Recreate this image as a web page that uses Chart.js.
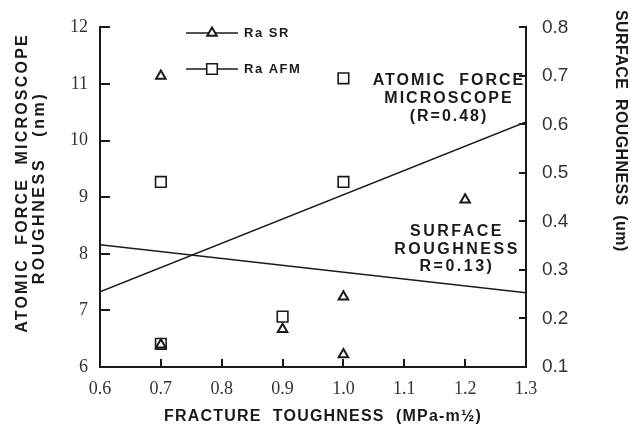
<!DOCTYPE html>
<html lang="en">

<head>
    <meta charset="UTF-8">
    <title>Fracture toughness vs roughness</title>
    <script src="https://cdn.jsdelivr.net/npm/chart.js"></script>
    <style>
        body { margin: 0; background: #fff; }
        canvas { display: block; }
    </style>
</head>

<body>
    <canvas id="roughChart" width="631" height="431"></canvas>

    <script>
        // x axis: fracture toughness
        const xMin = 0.6, xMax = 1.3, xStep = 0.1;
        // left axis: AFM roughness (nm), right axis: surface roughness (um)
        const afmMin = 6, afmMax = 12, afmStep = 1;
        const srMin = 0.1, srMax = 0.8, srStep = 0.1;

        // Ra SR points (right axis)
        const srToughness = [0.7, 0.7, 0.9, 1.0, 1.0, 1.2];
        const srRoughness = [0.70, 0.146, 0.178, 0.245, 0.126, 0.445];

        // Ra AFM points (left axis)
        const afmToughness = [0.7, 0.7, 0.9, 1.0, 1.0];
        const afmRoughness = [9.27, 6.41, 6.89, 11.1, 9.27];

        // fitted lines
        const fitToughness = [0.6, 1.3];
        const afmFit = [7.33, 10.33];
        const srFit = [0.352, 0.253];

        const seriesLabels = ['Ra SR', 'Ra AFM'];
        const xTitle = 'FRACTURE  TOUGHNESS  (MPa-m½)';
        const yTitle = ['ATOMIC  FORCE  MICROSCOPE', 'ROUGHNESS   (nm)'];
        const y2Title = 'SURFACE  ROUGHNESS  (um)';
        const afmNote = ['ATOMIC  FORCE', 'MICROSCOPE', '(R=0.48)'];
        const srNote = ['SURFACE', 'ROUGHNESS', 'R=0.13)'];

        const ink = '#1a1a1a';
        const toPoints = (xs, ys) => xs.map((x, i) => ({ x: x, y: ys[i] }));

        function drawText(ctx, text, x, y, opts) {
            ctx.save();
            ctx.translate(x, y);
            ctx.rotate(opts.rotation || 0);
            ctx.font = opts.font;
            ctx.letterSpacing = (opts.spacing || 0) + 'px';
            ctx.textAlign = opts.align || 'center';
            ctx.textBaseline = 'middle';
            ctx.fillStyle = ink;
            ctx.fillText(text, 0, 0);
            ctx.restore();
        }

        // inward tick marks, titles, notes and legend
        const decorations = {
            id: 'decorations',
            afterDraw(chart) {
                const { ctx, chartArea: a, scales } = chart;
                ctx.save();
                ctx.strokeStyle = ink;
                ctx.lineWidth = 2;
                ctx.beginPath();
                scales.x.ticks.forEach(t => {
                    const px = Math.round(scales.x.getPixelForValue(t.value));
                    ctx.moveTo(px, a.bottom);
                    ctx.lineTo(px, a.bottom - 8);
                });
                scales.y.ticks.forEach(t => {
                    const py = Math.round(scales.y.getPixelForValue(t.value));
                    ctx.moveTo(a.left, py);
                    ctx.lineTo(a.left + 10, py);
                });
                scales.y2.ticks.forEach(t => {
                    const py = Math.round(scales.y2.getPixelForValue(t.value));
                    ctx.moveTo(a.right, py);
                    ctx.lineTo(a.right - 7, py);
                });
                ctx.stroke();
                ctx.restore();

                const bold = 'bold 16px "Liberation Sans", Arial, sans-serif';
                drawText(ctx, xTitle, 323, 417, { font: bold, spacing: 1.2 });
                drawText(ctx, yTitle[0], 23, 183, { font: bold, spacing: 2.2, rotation: -Math.PI / 2 });
                drawText(ctx, yTitle[1], 40, 188, { font: bold, spacing: 2.6, rotation: -Math.PI / 2 });
                drawText(ctx, y2Title, 620, 10, { font: bold, spacing: 0.4, rotation: Math.PI / 2, align: 'left' });

                afmNote.forEach((t, i) => drawText(ctx, t, 449, 81 + i * 18, { font: bold, spacing: 2 }));
                srNote.forEach((t, i) => drawText(ctx, t, 457, 232 + i * 17.5, { font: bold, spacing: 2.5 }));

                // legend: line with marker in the middle
                const legendRows = [0, 1];
                legendRows.forEach(i => {
                    const ds = chart.data.datasets[i];
                    const ly = 33 + i * 36;
                    ctx.save();
                    ctx.strokeStyle = ink;
                    ctx.lineWidth = 1.5;
                    ctx.beginPath();
                    ctx.moveTo(186, ly);
                    ctx.lineTo(238, ly);
                    ctx.stroke();
                    ctx.fillStyle = '#fff';
                    ctx.lineWidth = ds.borderWidth;
                    Chart.helpers.drawPoint(ctx, {
                        pointStyle: ds.pointStyle,
                        radius: ds.pointRadius,
                        borderWidth: ds.borderWidth,
                        rotation: 0
                    }, 212, ly);
                    ctx.restore();
                    drawText(ctx, ds.label, 244, ly, { font: 'bold 13px "Liberation Sans", Arial, sans-serif', spacing: 1.5, align: 'left' });
                });
            }
        };

        const ctx = document.getElementById('roughChart').getContext('2d');
        new Chart(ctx, {
            type: 'scatter',
            data: {
                datasets: [
                    {
                        label: seriesLabels[0],
                        data: toPoints(srToughness, srRoughness),
                        yAxisID: 'y2',
                        pointStyle: 'triangle',
                        pointRadius: 5.5,
                        borderWidth: 2,
                        borderColor: ink,
                        backgroundColor: 'rgba(0,0,0,0)',
                        showLine: false,
                    },
                    {
                        label: seriesLabels[1],
                        data: toPoints(afmToughness, afmRoughness),
                        yAxisID: 'y',
                        pointStyle: 'rect',
                        pointRadius: 7.5,
                        borderWidth: 1.6,
                        borderColor: ink,
                        backgroundColor: 'rgba(0,0,0,0)',
                        showLine: false,
                    },
                    {
                        label: 'AFM fit',
                        data: toPoints(fitToughness, afmFit),
                        yAxisID: 'y',
                        showLine: true,
                        pointRadius: 0,
                        borderWidth: 1.5,
                        borderColor: ink,
                    },
                    {
                        label: 'SR fit',
                        data: toPoints(fitToughness, srFit),
                        yAxisID: 'y2',
                        showLine: true,
                        pointRadius: 0,
                        borderWidth: 1.5,
                        borderColor: ink,
                    },
                ],
            },
            options: {
                responsive: false,
                animation: false,
                devicePixelRatio: 1,
                layout: { padding: { top: 15, left: 0, right: 0, bottom: 0 } },
                plugins: {
                    legend: { display: false },
                    tooltip: { enabled: false },
                },
                scales: {
                    x: {
                        type: 'linear',
                        min: xMin,
                        max: xMax,
                        ticks: {
                            stepSize: xStep,
                            padding: 11,
                            color: '#333',
                            font: { family: '"Liberation Serif", serif', size: 18 },
                        },
                        grid: { display: false, drawTicks: false },
                        border: { display: true, color: ink, width: 2 },
                        afterFit: (s) => { s.height = 64; },
                    },
                    y: {
                        position: 'left',
                        min: afmMin,
                        max: afmMax,
                        ticks: {
                            stepSize: afmStep,
                            padding: 12,
                            color: '#333',
                            font: { family: '"Liberation Serif", serif', size: 18 },
                        },
                        grid: { display: false, drawTicks: false },
                        border: { display: true, color: ink, width: 2 },
                        afterFit: (s) => { s.width = 100; },
                    },
                    y2: {
                        position: 'right',
                        min: srMin,
                        max: srMax,
                        ticks: {
                            stepSize: srStep,
                            padding: 16,
                            color: '#333',
                            font: { family: '"Liberation Sans", sans-serif', size: 19 },
                        },
                        grid: { display: false, drawTicks: false },
                        border: { display: true, color: ink, width: 2 },
                        afterFit: (s) => { s.width = 105; },
                    },
                },
            },
            plugins: [decorations],
        });
    </script>

</body>

</html>
